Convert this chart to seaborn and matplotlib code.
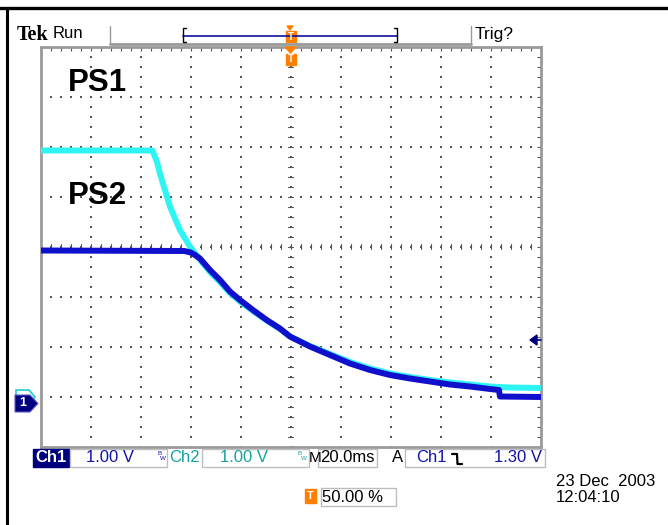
import numpy as np
import pandas as pd
import matplotlib
matplotlib.use("Agg")
import matplotlib.pyplot as plt
import matplotlib.patches as mpatches
from matplotlib.lines import Line2D
from matplotlib import font_manager
import seaborn as sns

# trace readings: time in ms (trigger at 0), level in volts
t_ch1 = [-100, -42.5, -40.0, -38.3, -36.3, -32.3, -28.3, -24.3, -20.3, -15.1, -9.6, -4.3,
         -0.3, 7.7, 15.7, 23.7, 31.7, 39.7, 47.7, 55.7, 63.7, 71.7, 79.7, 83.3, 83.7, 100]
v_ch1 = [3.07, 3.06, 3.03, 2.98, 2.91, 2.68, 2.48, 2.25, 2.08, 1.88, 1.68, 1.51,
         1.35, 1.15, 0.98, 0.81, 0.68, 0.58, 0.51, 0.45, 0.39, 0.35, 0.30, 0.28, 0.15, 0.14]
t_ch2 = [-100, -55.3, -53.6, -52.3, -48.3, -44.3, -40.3, -37.0, -32.3, -28.3, -24.3, -20.3,
         -15.1, -9.6, -4.3, -0.3, 7.7, 15.7, 23.7, 31.7, 39.7, 47.7, 55.7, 63.7, 71.7, 79.7,
         87.7, 100]
v_ch2 = [5.07, 5.07, 4.86, 4.61, 3.95, 3.48, 3.15, 2.93, 2.64, 2.44, 2.22, 2.05,
         1.86, 1.67, 1.50, 1.35, 1.16, 1.00, 0.84, 0.71, 0.61, 0.54, 0.48, 0.43, 0.39, 0.35,
         0.33, 0.32]
trace_labels = ["PS1", "PS2"]

W, H = 668, 525
NAVY = "#00007e"
BLUE_TXT = "#1212a8"
TEAL = "#12a2a2"
ORANGE = "#ff7f00"
GRAY = "#9a9a9a"

sns.set_style("white")


def pick_font(names):
    for n in names:
        try:
            font_manager.findfont(n, fallback_to_default=False)
            return n
        except Exception:
            continue
    return "DejaVu Sans"


SCOPE = pick_font(["Liberation Sans Narrow", "DejaVu Sans Condensed", "Liberation Sans"])
plt.rcParams["font.family"] = ["Liberation Sans", "DejaVu Sans"]
plt.rcParams["text.color"] = "black"


def fx(x):
    return x / W


def fy(y):
    return 1 - y / H


def P(pts):
    return [(fx(a), fy(b)) for a, b in pts]


df = pd.concat([
    pd.DataFrame({"t": t_ch2, "v": v_ch2, "ch": "Ch2"}),
    pd.DataFrame({"t": t_ch1, "v": v_ch1, "ch": "Ch1"}),
])

fig = plt.figure(figsize=(W / 100, H / 100), dpi=100)
ax = fig.add_axes([fx(40.7), fy(446.7), 500 / W, 400 / H])

sns.lineplot(data=df, x="t", y="v", hue="ch", hue_order=["Ch2", "Ch1"],
             palette={"Ch2": "#2ef4f4", "Ch1": "#1010cc"}, estimator=None, sort=False,
             linewidth=4.3, legend=False, ax=ax, zorder=3)

vlo, vhi = -0.854, 7.146
ax.set_xlim(-100, 100)
ax.set_ylim(vlo, vhi)

# graticule dots
gx = np.arange(-80, 81, 20)
gy = vlo + np.arange(1, 8)
dots_v = np.arange(vlo, vhi + 0.01, 0.2)
dots_t = np.arange(-100, 100.1, 4)
for x in gx:
    ax.scatter(np.full(len(dots_v), x), dots_v, s=1.3, marker="s", color="#555555",
               linewidths=0, zorder=1)
for y in gy:
    ax.scatter(dots_t, np.full(len(dots_t), y), s=1.3, marker="s", color="#555555",
               linewidths=0, zorder=1)
# centre cross tick marks
vc = vlo + 4
for v in dots_v:
    ax.plot([-0.9, 0.9], [v, v], color="#555555", lw=0.8, zorder=1)
for t in dots_t:
    ax.plot([t, t], [vc - 0.045, vc + 0.045], color="#555555", lw=0.8, zorder=1)

ax.set_xticks(dots_t)
ax.set_yticks(dots_v)
ax.tick_params(direction="in", length=3, width=0.8, color="#555555",
               top=True, right=True, labelbottom=False, labelleft=False)
ax.set_xlabel("")
ax.set_ylabel("")
for s in ax.spines.values():
    s.set_color(GRAY)
    s.set_linewidth(2)

ax.text(-89, vlo + 7.27, trace_labels[0], fontsize=22.5, fontweight="bold", color="black",
        ha="left", va="center", family="Liberation Sans")
ax.text(-89, vlo + 5.01, trace_labels[1], fontsize=22.5, fontweight="bold", color="black",
        ha="left", va="center", family="Liberation Sans")

# outer screen border
fig.add_artist(Line2D([0, 1], [fy(8), fy(8)], color="black", lw=2.4))
fig.add_artist(Line2D([fx(6.5), fx(6.5)], [0, fy(8)], color="black", lw=2.2))

# header
fig.text(fx(17), fy(35), "Tek", family="Liberation Serif", fontweight="bold",
         fontsize=14.5, va="center", ha="left")
fig.text(fx(53), fy(34), "Run", family=SCOPE, fontsize=12, va="center", ha="left")
fig.text(fx(475), fy(34), "Trig?", family=SCOPE, fontsize=12.5, va="center", ha="left")
fig.add_artist(Line2D([fx(110), fx(110)], [fy(26), fy(44)], color=GRAY, lw=1))
fig.add_artist(Line2D([fx(471), fx(471)], [fy(26), fy(44)], color=GRAY, lw=1))
fig.add_artist(Line2D([fx(110), fx(471)], [fy(44), fy(44)], color=GRAY, lw=2))
fig.add_artist(Line2D([fx(183), fx(397)], [fy(36), fy(36)], color="#10109c", lw=1.2))
for bx, d in [(183, 1), (397, -1)]:
    fig.add_artist(Line2D([fx(bx + 3 * d), fx(bx), fx(bx), fx(bx + 3 * d)],
                          [fy(28), fy(28), fy(42), fy(42)], color="black", lw=1))
# trigger position markers (header and graticule top)
fig.add_artist(mpatches.Polygon(P([(287, 26), (293, 26), (290, 30)]), closed=True,
                                color=ORANGE, transform=fig.transFigure))
fig.add_artist(mpatches.Rectangle((fx(285.5), fy(42)), fx(10), 11 / H, color=ORANGE,
                                  transform=fig.transFigure))
fig.text(fx(290.5), fy(36.5), "T", color="white", fontsize=7, fontweight="bold",
         ha="center", va="center")
fig.add_artist(mpatches.Polygon(P([(285, 47), (296, 47), (290.5, 53)]), closed=True,
                                color=ORANGE, transform=fig.transFigure, zorder=5))
fig.add_artist(mpatches.Rectangle((fx(285.5), fy(65)), fx(10), 11 / H, color=ORANGE,
                                  transform=fig.transFigure, zorder=5))
fig.text(fx(290.5), fy(59.5), "T", color="white", fontsize=7, fontweight="bold",
         ha="center", va="center", zorder=6)

# trigger level arrow on right edge
fig.add_artist(mpatches.Polygon(P([(530, 340), (537, 335), (537, 345)]), closed=True,
                                color=NAVY, transform=fig.transFigure, zorder=5))
fig.add_artist(Line2D([fx(536), fx(541)], [fy(340), fy(340)], color=NAVY, lw=1.2, zorder=5))

# ground markers on left edge
fig.add_artist(mpatches.Polygon(P([(16, 390), (29, 390), (35, 397), (29, 404), (16, 404)]),
                                closed=True, fill=False, edgecolor="#22cccc", lw=1.2,
                                transform=fig.transFigure, zorder=4))
fig.add_artist(mpatches.Polygon(P([(15, 395), (30, 395), (38, 403.5), (30, 412), (15, 412)]),
                                closed=True, facecolor=NAVY, edgecolor="#5a5ad0", lw=0.8,
                                transform=fig.transFigure, zorder=5))
fig.text(fx(23), fy(403.5), "1", color="white", fontsize=9, fontweight="bold",
         ha="center", va="center", zorder=6)

# bottom readout row
ry = 457.5
fs = 12
fig.add_artist(mpatches.Rectangle((fx(33), fy(466.5)), fx(36), 18 / H, color=NAVY,
                                  transform=fig.transFigure))
fig.text(fx(51), fy(ry), "Ch1", color="white", family=SCOPE, fontsize=fs,
         fontweight="bold", ha="center", va="center")
for x0, x1 in [(70, 167), (202, 309), (318, 377), (405, 545)]:
    fig.add_artist(mpatches.Rectangle((fx(x0), fy(466.5)), fx(x1 - x0), 18 / H,
                                      fill=False, edgecolor="#bdbdbd", lw=1,
                                      transform=fig.transFigure))
fig.text(fx(86), fy(ry), "1.00 V", color=BLUE_TXT, family=SCOPE, fontsize=fs,
         ha="left", va="center")
fig.text(fx(169), fy(ry), "Ch2", color=TEAL, family=SCOPE, fontsize=fs,
         ha="left", va="center")
fig.text(fx(220), fy(ry), "1.00 V", color=TEAL, family=SCOPE, fontsize=fs,
         ha="left", va="center")
for bx, c in [(157, BLUE_TXT), (298, TEAL)]:
    fig.text(fx(bx), fy(453.5), "B", color=c, fontsize=4.5, ha="left", va="center")
    fig.text(fx(bx + 3), fy(458), "W", color=c, fontsize=4.5, ha="left", va="center")
fig.text(fx(308.5), fy(ry), "M", family=SCOPE, fontsize=11, ha="left", va="center")
fig.text(fx(320), fy(ry), "20.0ms", family=SCOPE, fontsize=fs, ha="left", va="center")
fig.text(fx(392), fy(ry), "A", family=SCOPE, fontsize=fs, ha="left", va="center")
fig.text(fx(416), fy(ry), "Ch1", color=BLUE_TXT, family=SCOPE, fontsize=fs,
         ha="left", va="center")
fig.add_artist(Line2D([fx(452), fx(457), fx(457.5), fx(462)],
                      [fy(454), fy(454), fy(464), fy(464)], color="black", lw=1.6))
fig.text(fx(542), fy(ry), "1.30 V", color=BLUE_TXT, family=SCOPE, fontsize=fs,
         ha="right", va="center")

# trigger position and date
fig.add_artist(mpatches.Rectangle((fx(305), fy(503)), fx(11), 14 / H, color=ORANGE,
                                  transform=fig.transFigure))
fig.text(fx(310.5), fy(496), "T", color="white", fontsize=8, fontweight="bold",
         ha="center", va="center")
fig.add_artist(mpatches.Rectangle((fx(320.5), fy(506)), fx(75), 18 / H, fill=False,
                                  edgecolor="#bdbdbd", lw=1, transform=fig.transFigure))
fig.text(fx(322), fy(497), "50.00 %", family=SCOPE, fontsize=fs, ha="left", va="center")
fig.text(fx(556), fy(481.5), "23 Dec  2003", family=SCOPE, fontsize=fs,
         ha="left", va="center")
fig.text(fx(556), fy(497), "12:04:10", family=SCOPE, fontsize=fs, ha="left", va="center")

fig.savefig("out.png", dpi=100)
